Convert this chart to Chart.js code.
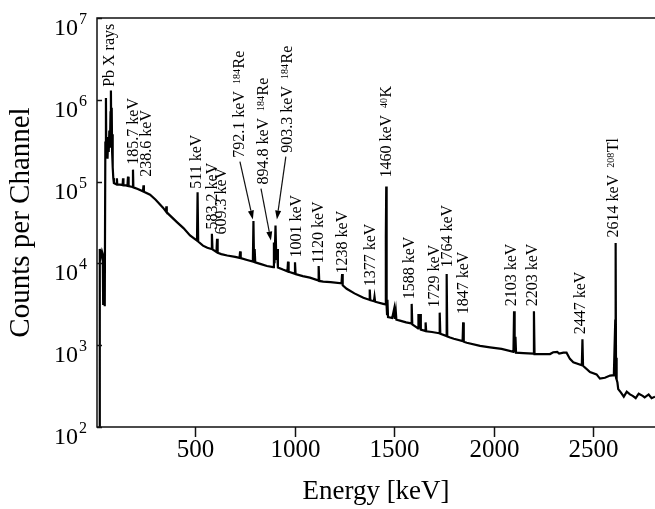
<!DOCTYPE html>
<html>
<head>
<meta charset="UTF-8">
<title>Espectro gamma</title>
<style>
body { margin: 0; background: #fff; }
</style>
<script src="https://cdn.jsdelivr.net/npm/chart.js@4.4.1/dist/chart.umd.min.js"></script>
</head>
<body>
<canvas id="spectrum" width="655" height="509"></canvas>
<script>
// Spectrum: energy [keV] and counts per channel
var energy = [8, 18, 19, 24, 30, 34, 36, 40, 44, 47, 50, 52, 55, 58, 61, 64, 67, 70, 73, 75, 77, 79, 81, 83, 85, 87, 90,
  100, 104, 105, 107, 120, 134, 136, 138, 150, 158, 161, 164, 183, 186, 188, 210, 236, 239, 241, 272, 300, 337,
  352, 354, 356, 407, 440, 473, 508, 511, 514, 538, 560, 580, 583, 586, 606, 609, 612, 630, 660, 700, 722, 725, 728,
  760, 789, 792, 795, 798, 801, 830, 860, 891, 895, 898, 903, 907, 911, 915, 940, 963, 966, 969, 998, 1001, 1004,
  1040, 1076, 1117, 1120, 1123, 1143, 1180, 1235, 1238, 1241, 1261, 1300, 1345, 1374, 1377, 1380, 1398, 1401, 1404,
  1445, 1456, 1458, 1460, 1462, 1464, 1466, 1469, 1490, 1500, 1503, 1508, 1511, 1529, 1560, 1585, 1588, 1591,
  1613, 1620, 1622, 1625, 1631, 1634, 1655, 1658, 1661, 1690, 1726, 1729, 1732, 1761, 1764, 1767, 1781, 1800,
  1844, 1847, 1850, 1865, 1932, 1982, 2040, 2100, 2103, 2106, 2110, 2113, 2150, 2200, 2203, 2206, 2250, 2284,
  2300, 2320, 2330, 2351, 2367, 2384, 2401, 2444, 2447, 2450, 2485, 2518, 2535, 2560, 2586, 2605, 2612, 2614,
  2616, 2618, 2620, 2623, 2627, 2640, 2655, 2670, 2686, 2700, 2715, 2730, 2750, 2760, 2780, 2795, 2812];
var counts = [50, 50, 15000, 12000, 14000, 13000, 3200, 3800, 3000, 300000, 1050000, 200000, 330000, 190000, 350000,
  230000, 420000, 260000, 700000, 1300000, 320000, 800000, 230000, 380000, 150000, 110000, 96000,
  93000, 93000, 110000, 92000, 92000, 91000, 110000, 90000, 90000, 89000, 115000, 88000, 86000, 140000, 85000, 81000,
  76000, 90000, 75000, 69000, 60000, 48000,
  43000, 50000, 42000, 32000, 27000, 22000, 19000, 74000, 18500, 16500, 15500, 15000, 23000, 14800, 13800, 20000,
  13500, 13000, 12500, 12000, 11700, 14000, 11600,
  11000, 10500, 33000, 10400, 15000, 10300, 9800, 9300, 9000, 18000, 10000, 29000, 11000, 15000, 8900, 8400, 8000,
  10500, 7900, 7500, 10300, 7400,
  7000, 6700, 6200, 9300, 6100, 6000, 5900, 5700, 7400, 5400, 4900, 4300, 3800, 3600, 4800, 3550, 3450, 3900, 3400,
  3200, 3150, 21000, 87000, 3000, 2400, 3600, 2200, 2150, 2800, 2100, 2600, 2050, 2000, 1900, 1850, 3200, 1800,
  1650, 1600, 2400, 1600, 2400, 1550, 1500, 1900, 1480, 1450, 1400, 2500, 1380, 1300, 7400, 1280, 1240, 1200,
  1120, 1900, 1100, 1070, 980, 940, 900, 830, 2600, 820, 1270, 810, 800, 790, 2600, 780, 780, 780,
  820, 830, 790, 810, 810, 680, 620, 570, 1180, 560, 470, 440, 390, 400, 425, 430, 2000, 17800,
  400, 700, 380, 350, 290, 265, 235, 270, 250, 240, 225, 255, 240, 230, 250, 225, 235];

// Tick values
var xTicks = [500, 1000, 1500, 2000, 2500];
var yExponents = [2, 3, 4, 5, 6, 7];

// Peak labels: text, isotope mass, element, label anchor (keV, counts at text start)
var labelText = ['Pb X rays', '185.7 keV', '238.6 keV', '511 keV', '583.2 keV', '609.3 keV', '792.1 keV', '894.8 keV',
  '903.3 keV', '1001 keV', '1120 keV', '1238 keV', '1377 keV', '1460 keV', '1588 keV', '1729 keV', '1764 keV',
  '1847 keV', '2103 keV', '2203 keV', '2447 keV', '2614 keV'];
var labelMass = ['', '', '', '', '', '', '184', '184', '184', '', '', '', '', '40', '', '', '', '', '', '', '', '208'];
var labelElem = ['', '', '', '', '', '', 'Re', 'Re', 'Re', '', '', '', '', 'K', '', '', '', '', '', '', '', 'Tl'];
var labelE = [65, 186, 251, 503, 580, 626, 716, 837, 958, 1006, 1116, 1237, 1378, 1458, 1574, 1697, 1765, 1843,
  2087, 2193, 2434, 2598];
var labelC = [1.44e6, 1.61e5, 1.15e5, 8.2e4, 2.6e4, 2.26e4, 1.96e5, 9.2e4, 2.26e5, 1.18e4, 1.0e4, 7.55e3, 5.25e3,
  1.12e5, 3.64e3, 2.9e3, 8.9e3, 2.39e3, 2.99e3, 2.99e3, 1.36e3, 2.08e4];

// Arrows from the 184Re labels to their peaks
var arrowFromE = [724, 830, 955];
var arrowFromC = [1.75e5, 8.2e4, 2.02e5];
var arrowToE = [789, 880, 910];
var arrowToC = [3.44e4, 1.9e4, 3.44e4];

var FONT = '"Liberation Serif", "Times New Roman", serif';

function rotLabel(ctx, x, y, text, mass, elem) {
  ctx.save();
  ctx.translate(x, y);
  ctx.rotate(-Math.PI / 2);
  ctx.textAlign = 'left';
  ctx.textBaseline = 'alphabetic';
  ctx.font = '16px ' + FONT;
  ctx.fillText(text, 0, 5.5);
  if (elem) {
    var w = ctx.measureText(text).width + 7;
    ctx.font = '10px ' + FONT;
    ctx.fillText(mass, w, 1.5);
    w += ctx.measureText(mass).width + 0.5;
    ctx.font = '16px ' + FONT;
    ctx.fillText(elem, w, 5.5);
  }
  ctx.restore();
}

function arrow(ctx, x1, y1, x2, y2) {
  var ang = Math.atan2(y2 - y1, x2 - x1), len = 9, half = 3;
  ctx.beginPath();
  ctx.moveTo(x1, y1);
  ctx.lineTo(x2 - Math.cos(ang) * len, y2 - Math.sin(ang) * len);
  ctx.stroke();
  ctx.beginPath();
  ctx.moveTo(x2, y2);
  ctx.lineTo(x2 - Math.cos(ang) * len + Math.sin(ang) * half, y2 - Math.sin(ang) * len - Math.cos(ang) * half);
  ctx.lineTo(x2 - Math.cos(ang) * len - Math.sin(ang) * half, y2 - Math.sin(ang) * len + Math.cos(ang) * half);
  ctx.closePath();
  ctx.fill();
}

var decorations = {
  id: 'decorations',
  afterDatasetsDraw: function(chart) {
    var ctx = chart.ctx, a = chart.chartArea, xs = chart.scales.x, ys = chart.scales.y;
    ctx.save();
    ctx.strokeStyle = '#111';
    ctx.fillStyle = '#000';
    ctx.lineWidth = 1.5;

    // frame: top, left, bottom (right side is cut off)
    ctx.beginPath();
    ctx.moveTo(a.right, a.top);
    ctx.lineTo(a.left, a.top);
    ctx.lineTo(a.left, a.bottom);
    ctx.lineTo(a.right, a.bottom);
    ctx.stroke();

    // x ticks (outside) and labels
    ctx.font = '25px ' + FONT;
    ctx.textAlign = 'center';
    ctx.textBaseline = 'alphabetic';
    xTicks.forEach(function(v) {
      var x = Math.round(xs.getPixelForValue(v)) + 0.5;
      ctx.beginPath();
      ctx.moveTo(x, a.bottom);
      ctx.lineTo(x, a.bottom + 10);
      ctx.stroke();
      ctx.fillText(String(v), x, a.bottom + 30);
    });

    // y ticks (inside) and 10^n labels
    ctx.textAlign = 'right';
    yExponents.forEach(function(p) {
      var y = Math.round(ys.getPixelForValue(Math.pow(10, p))) + 0.5;
      ctx.beginPath();
      ctx.moveTo(a.left, y);
      ctx.lineTo(a.left + 5, y);
      ctx.stroke();
      ctx.font = '16px ' + FONT;
      var ew = ctx.measureText(String(p)).width;
      ctx.fillText(String(p), a.left - 10, y + 5);
      ctx.font = '24px ' + FONT;
      ctx.fillText('10', a.left - 11 - ew, y + 16);
    });

    // axis titles
    ctx.font = '27px ' + FONT;
    ctx.textAlign = 'center';
    ctx.fillText('Energy [keV]', (a.left + a.right) / 2, 499);
    ctx.save();
    ctx.translate(29, (a.top + a.bottom) / 2);
    ctx.rotate(-Math.PI / 2);
    ctx.font = '29px ' + FONT;
    ctx.fillText('Counts per Channel', 0, 0);
    ctx.restore();

    // peak labels
    for (var i = 0; i < labelText.length; i++) {
      rotLabel(ctx, xs.getPixelForValue(labelE[i]), ys.getPixelForValue(labelC[i]),
        labelText[i], labelMass[i], labelElem[i]);
    }

    // arrows
    ctx.lineWidth = 1.2;
    for (var j = 0; j < arrowFromE.length; j++) {
      arrow(ctx, xs.getPixelForValue(arrowFromE[j]), ys.getPixelForValue(arrowFromC[j]),
        xs.getPixelForValue(arrowToE[j]), ys.getPixelForValue(arrowToC[j]));
    }
    ctx.restore();
  }
};

var points = energy.map(function(e, i) { return { x: e, y: counts[i] }; });

new Chart(document.getElementById('spectrum'), {
  type: 'line',
  data: {
    datasets: [{
      data: points,
      borderColor: '#000',
      borderWidth: 2.2,
      pointRadius: 0,
      tension: 0,
      fill: false
    }]
  },
  options: {
    responsive: false,
    animation: false,
    layout: { padding: { top: 18, right: 0, bottom: 0, left: 0 } },
    plugins: { legend: { display: false }, tooltip: { enabled: false } },
    scales: {
      x: {
        type: 'linear', min: 5, max: 2812,
        grid: { display: false }, border: { display: false }, ticks: { display: false },
        afterFit: function(s) { s.height = 82; }
      },
      y: {
        type: 'logarithmic', min: 100, max: 1e7,
        grid: { display: false }, border: { display: false }, ticks: { display: false },
        afterFit: function(s) { s.width = 97; }
      }
    }
  },
  plugins: [decorations]
});
</script>
</body>
</html>
